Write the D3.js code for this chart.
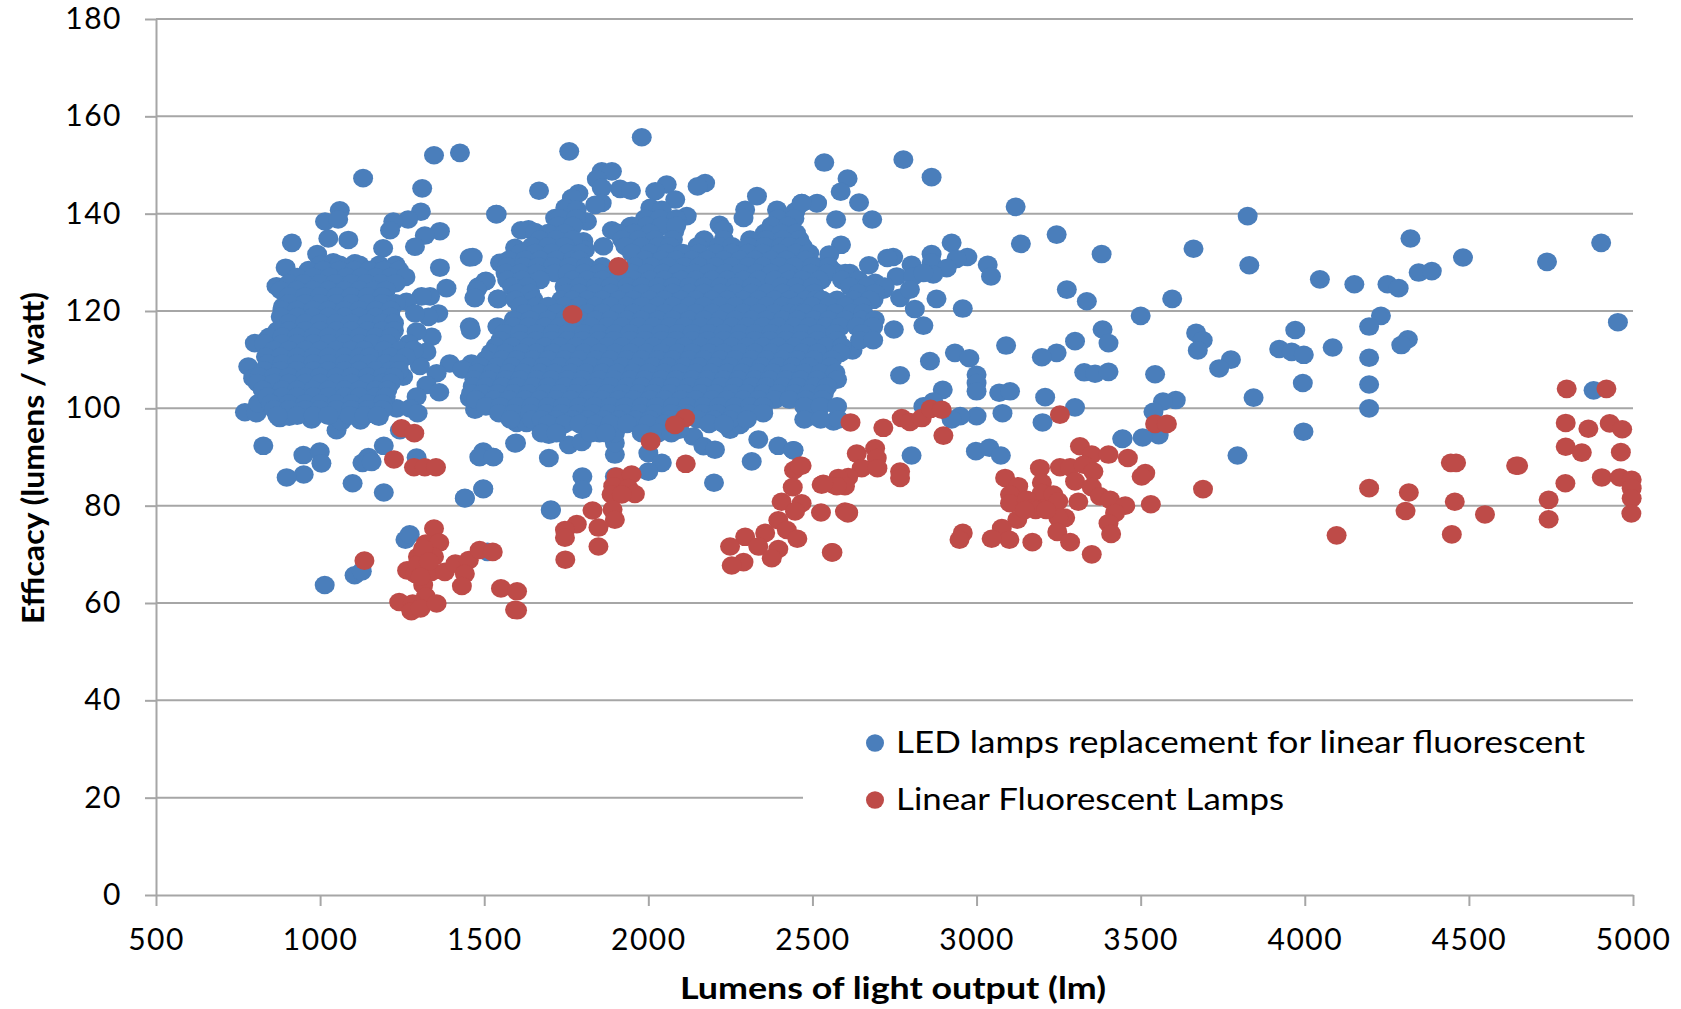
<!DOCTYPE html>
<html>
<head>
<meta charset="utf-8">
<script src="https://cdn.jsdelivr.net/npm/d3@7"></script>
<style>
body { margin: 0; background: #fff; }
text { font-family: Lato, sans-serif; fill: #000; }
</style>
</head>
<body>
<div id="chart"></div>
<script>
var xTicks = [500, 1000, 1500, 2000, 2500, 3000, 3500, 4000, 4500, 5000];
var yTicks = [0, 20, 40, 60, 80, 100, 120, 140, 160, 180];
var seriesNames = ["LED lamps replacement for linear fluorescent", "Linear Fluorescent Lamps"];
var seriesColors = ["#4a7ebb", "#be4b48"];

// LED points that can be told apart: [lumens, efficacy]
var ledPoints = [
    [1131,147.3],[1311,145.2],[1347,152],[1426,152.5],[1060,140.7],[1015,138.4],[1055,138.8],[1307,140.4],[1268,138.8],[1223,138.4],
    [1213,136.6],[1365,136.4],[1319,135.5],[1025,134.9],[1086,134.6],[914,134],[1289,133.2],[1192,132.9],[1538,139.9],[1456,131],
    [1365,128.9],[1385,124.7],[991,131.7],[1040,130],[1106,129.8],[895,128.9],[867,125.1],[887,120.9],[1505,126.2],[1482,125],
    [1470,122.7],[1541,122.5],[1335,123],[1309,123],[1263,121.9],[1360,119.5],[1330,118.8],[1289,119.5],[1456,116.8],[1459,116],
    [1340,114.7],[1324,111.6],[1294,115.8],[801,113.4],[837,114],[781,108.6],[796,106.2],[1395,109.2],[1461,109.2],[1433,108],
    [1355,107.2],[1304,108.7],[1324,104.8],[1363,103.3],[1294,102.4],[1253,106.5],[771,99.2],[806,99],[811,101],[877,98],
    [906,98.3],[974,97.7],[1050,95.5],[1065,97.3],[1123,97.5],[1179,98.3],[1233,100],[1274,100],[1297,99],[1243,95.5],
    [827,92.3],[949,90.4],[999,91.1],[1004,88.7],[950,86.4],[898,85.8],[1099,84.6],[1194,82.7],[1194,92.3],[1147,90],
    [1129,88.8],[1157,89],[1294,89.9],[1441,81.5],[1497,83.4],[1497,91.1],[1485,90],[1527,90],[1594,92.8],
    [1980,155.7],[1759,152.8],[1667,144.7],[1858,148.7],[1889,148.7],[1843,147.1],[1914,145.1],[1947,144.7],[1858,145.3],[1787,144.2],
    [1767,143.2],[1858,142.2],[1838,141.8],[2056,146],[2021,144.6],[2082,142.9],[2006,141.2],[2041,140.8],[2117,139.5],[2079,136.4],
    [2173,146.3],[2150,145.6],[2331,143.6],[2295,140.8],[2290,139.1],[2392,140.8],[2468,142.2],[2514,142.2],[2448,140.5],[2217,137.7],
    [2229,136.7],[1536,139.9],[1716,139.1],[1747,141.2],[1782,140.8],[1813,138.4],[1635,136.8],[1612,136.6],[1655,136.2],[1889,136.6],
    [1945,137.4],[1594,133],[1548,129.9],[1465,131.1],[1503,126.1],[1477,124.4],[1543,122.5],[1472,122.7],[1802,134.3],[1807,132.6],
    [1863,133.3],[1594,125.1],[1569,127.8],
    [1497,90.8],[1487,90],[1528,90],[1597,92.9],[1697,89.8],[1697,94.6],[1758,92.5],[1797,93.1],[1851,94.9],[1898,90.5],
    [1898,92.9],[1898,94.9],[1799,86],[1799,83.3],[1497,83.5],[1441,81.6],[1703,79.2],[2000,90.8],[2041,88.8],[2000,87],
    [1898,86],[2335,93.6],[2396,92.3],[2442,91.4],[2315,89.1],[2200,84.7],[2137,94.2],[2168,92.2],[2203,91.5],[2249,95.6],
    [2279,96.6],[2095,95.6],[1599,97],[1629,97],[1472,99.7],[1456,102.1],[2498,98.4],[2564,97.3],
    [2536,150.5],[2777,151.1],[2863,147.5],[2607,147.2],[2586,144.5],[2642,142.3],[2513,142.1],[2467,142.2],[2572,138.8],[2682,138.8],
    [3119,141.4],[3244,135.7],[3135,133.8],[3381,131.7],[2587,133.6],[2551,131.6],[2924,134],[2863,131.7],[2972,131.1],[2939,130.7],
    [3034,129.5],[3044,127.1],[2746,131.1],[2728,130.9],[2802,129.5],[2672,129.4],[2863,129.9],[2757,127.1],[2909,128.8],[2868,127.5],
    [2807,127.1],[2838,127.8],[2614,127.8],[2564,128.2],[2513,129.2],[2528,126.4],[2645,125.8],[2691,125.8],[2716,124.4],[2640,122.3],
    [2686,122.3],[2767,122.7],[2797,124.4],[2878,122.5],[2958,120.5],[2812,120.4],[3275,124.4],[3336,122],[2838,117],[2748,116.2],
    [3384,116.2],[3402,113.4],[3300,113.8],[3244,111.4],[3199,110.5],[3090,112.9],[2663,114.8],[2622,111.9],[2934,111.4],[2978,110.3],
    [2858,109.7],[3000,106.9],[3000,105.2],[3000,103.5],[2767,106.8],[3328,107.4],[3361,107.1],[3402,107.5],[2897,103.8],[3069,103.2],
    [3102,103.5],[3209,102.3],[3300,100.2],[2868,101.4],[2838,100.4],[3079,99],[3000,98.4],[2950,98.4],[2924,97.7],[3201,97.1],
    [2558,105.9],[2802,90.3],[2998,91.2],[3039,91.9],[3074,90.3],[3445,93.8],[2442,91.4],
    [3661,132.8],[3831,129.4],[3826,139.5],[4322,134.9],[4482,131],[4903,134],[4738,130.1],[4046,126.5],[4151,125.5],[4252,125.5],
    [4286,124.7],[4347,127.9],[4387,128.2],[3596,122.5],[3500,119],[4232,119],[4196,116.8],[4954,117.7],[3669,115.5],[3689,114],
    [3674,111.9],[3971,116.1],[4085,112.5],[3922,112.2],[3960,111.6],[3997,111],[4314,114.2],[4294,113],[3775,110],[3739,108.2],
    [4196,110.4],[3544,107],[3994,105.2],[4196,104.9],[3607,101.7],[3568,101.4],[3844,102.2],[3539,99.3],[4196,100],[3996,95.2],
    [3555,94.5],[3506,94],[3444,93.7],[3795,90.3],[4880,103.7],
    [1014,63.7],[1105,65.7],[1127,66.5],[1260,73],[1273,74.1],[1703,79],[1510,70.5]
];

// overplotted LED clouds, estimated row by row: [efficacy, lumens, lumens, ...]
var ledCloudRows = [
    [129.5,1000,1060,1120,1180,1230],
    [128.4,965,1010,1060,1105,1150,1195,1240],
    [127,930,980,1030,1080,1125,1170,1215,1260],
    [125.7,905,950,1000,1045,1095,1140,1185,1230],
    [124.3,880,930,980,1025,1075,1120,1165,1200],
    [123,905,955,1000,1050,1095,1145,1190],
    [121.6,905,955,1000,1050,1095,1145,1190,1230],
    [120.2,885,930,980,1025,1075,1120,1170,1215],
    [118.8,880,930,980,1025,1075,1120,1170,1215],
    [117.5,905,955,1000,1050,1095,1145,1190,1225],
    [116,870,905,955,1000,1050,1095,1145,1190,1225],
    [114.7,845,885,930,980,1025,1075,1120,1170,1215],
    [113.3,830,885,930,980,1025,1075,1120,1160,1205,1270],
    [112,860,905,955,1000,1050,1095,1135,1195,1245,1285],
    [110.6,835,880,930,980,1025,1075,1120,1150,1215,1260],
    [109.2,840,885,930,980,1025,1075,1120,1150,1200,1240],
    [107.8,830,880,930,980,1025,1075,1120,1170,1215,1240],
    [106.5,815,860,905,955,1000,1050,1095,1145,1190,1225],
    [105.2,810,860,905,955,1000,1050,1095,1145,1190,1215],
    [103.8,825,885,930,980,1025,1075,1120,1170,1205],
    [102.4,840,885,930,980,1025,1075,1120,1170,1200],
    [101,850,905,955,1000,1050,1095,1145,1190],
    [99.8,860,905,955,1000,1050,1095,1145,1190],
    [98.5,870,930,980,1025,1090,1135,1175],
    [139,1730,1780,1990,2035,2085,2395,2445],
    [137.5,1725,1770,1950,1995,2040,2085,2375,2425],
    [136,1695,1745,1910,1955,2005,2355,2405,2450],
    [134.7,1670,1720,1770,1920,1970,2020,2075,2170,2230,2310,2360,2410,2460],
    [133.3,1645,1695,1745,1930,1980,2030,2065,2150,2215,2255,2305,2355,2405,2430,2470],
    [131.9,1610,1655,1705,1755,1795,1950,2005,2055,2105,2155,2205,2255,2305,2350,2400,2450,2490],
    [130.5,1575,1625,1670,1720,1770,1790,1990,2040,2085,2135,2180,2230,2280,2325,2375,2420,2480],
    [129.2,1570,1620,1665,1710,1760,1810,1860,1960,2010,2060,2110,2155,2205,2255,2305,2350,2400,2445,2500,2550],
    [127.8,1565,1610,1660,1715,1755,1805,1850,1900,1950,1995,2045,2090,2140,2185,2235,2280,2330,2375,2425,2495,2545,2600],
    [126.4,1570,1615,1670,1770,1815,1860,1910,1955,2005,2050,2100,2145,2195,2240,2290,2335,2385,2430,2470,2520,2590,2640],
    [125,1585,1630,1745,1790,1840,1885,1935,1980,2030,2075,2125,2170,2220,2265,2315,2405,2450,2500,2615,2665,2720],
    [123.7,1600,1640,1750,1790,1840,1885,1935,1980,2030,2075,2125,2170,2220,2265,2315,2360,2410,2455,2505,2640,2690],
    [122.3,1595,1650,1735,1770,1815,1860,1910,1955,2005,2050,2100,2145,2195,2240,2290,2335,2385,2430,2480,2510,2530,2575,2625,2675],
    [121,1610,1660,1695,1745,1790,1840,1885,1935,1980,2030,2075,2125,2170,2220,2265,2315,2360,2410,2450,2500,2550,2600,2650],
    [119.6,1625,1670,1720,1765,1815,1860,1910,1955,2005,2050,2100,2145,2195,2240,2290,2335,2385,2430,2460,2475,2525,2570,2620,2655],
    [118.2,1590,1640,1695,1745,1790,1840,1885,1935,1980,2030,2075,2125,2170,2220,2265,2315,2360,2410,2455,2505,2550,2600,2650,2690],
    [116.8,1540,1590,1635,1685,1730,1780,1825,1875,1920,1970,2015,2065,2110,2160,2205,2255,2300,2350,2395,2445,2490,2540,2585,2635,2685],
    [115.4,1560,1610,1660,1710,1755,1805,1850,1900,1945,1995,2040,2090,2135,2185,2230,2280,2325,2375,2420,2470,2515,2570,2650],
    [114,1550,1610,1660,1705,1755,1800,1850,1895,1945,1990,2040,2085,2135,2180,2230,2275,2325,2370,2420,2465,2515,2575,2645,2685],
    [112.7,1535,1585,1635,1685,1730,1780,1825,1875,1920,1970,2015,2065,2110,2160,2205,2255,2300,2350,2395,2445,2490,2540,2590],
    [111.4,1520,1565,1615,1660,1710,1755,1805,1850,1900,1945,1995,2040,2090,2135,2185,2230,2280,2325,2375,2420,2470,2515,2585],
    [110,1505,1555,1600,1650,1695,1745,1790,1840,1885,1935,1980,2030,2075,2125,2170,2220,2265,2315,2360,2410,2455,2505,2560],
    [108.6,1490,1540,1585,1635,1680,1730,1775,1825,1870,1920,1965,2015,2060,2110,2155,2205,2250,2300,2345,2395,2440,2490,2555],
    [107.3,1480,1525,1575,1620,1670,1715,1765,1810,1860,1905,1955,2000,2050,2095,2145,2190,2240,2285,2335,2380,2430,2475,2525,2570],
    [105.9,1470,1515,1565,1610,1660,1705,1755,1800,1850,1895,1945,1990,2040,2085,2135,2180,2230,2275,2325,2370,2420,2465,2515,2575],
    [104.5,1465,1505,1555,1600,1650,1695,1745,1790,1840,1885,1935,1980,2030,2075,2125,2170,2220,2265,2315,2360,2410,2455,2505,2545],
    [103.1,1460,1495,1540,1590,1635,1685,1730,1780,1825,1875,1920,1970,2015,2065,2110,2160,2205,2255,2300,2350,2395,2445,2490,2535],
    [101.8,1475,1530,1575,1625,1670,1720,1765,1815,1860,1910,1955,2005,2050,2100,2145,2195,2240,2290,2335,2385,2430,2480,2530],
    [100.4,1505,1550,1600,1645,1695,1740,1790,1835,1885,1930,1980,2025,2075,2120,2170,2215,2265,2310,2350,2475,2525,2575],
    [99,1545,1590,1640,1690,1735,1785,1830,1880,1925,1975,2020,2070,2115,2165,2210,2260,2310,2350],
    [97.7,1580,1645,1675,1720,1770,1815,1865,1910,1960,2005,2065,2150,2200,2250,2300,2475,2525,2580],
    [96.8,1695,1745,1790,1840,1885,1935,2000,2050,2185,2230],
    [94.9,1675,1720,1825,1870,1980,2030,2070]
];

// fluorescent points: [lumens, efficacy]
var fluorescentPoints = [
    [1909,129.2],[1769,119.3],[1248,95.9],[1287,94.9],[1225,89.5],[1286,87.9],[1319,87.9],[1353,87.9],
    [1135,68.7],[1347,75.3],[1322,72.2],[1363,72.4],[1298,69.5],[1347,69.5],[1265,66.7],[1290,66],[1339,66.4],[1380,66.4],[1412,68.1],[1453,68.8],
    [1441,66],[1432,63.5],[1486,70.9],[1526,70.5],[1314,63.7],[1322,61.3],[1241,60.2],[1282,59.9],[1278,58.3],[1306,58.9],
    [1355,59.9],[1551,63],[1600,62.4],[1600,58.5],[1594,58.6],[1298,68],[1314,71.2],[1331,68.5],[1306,65.4],
    [2007,93.2],[2112,98],[2081,96.6],[2114,88.6],[2467,88.2],[2444,87.3],[2440,83.8],[2528,84.3],[2564,84.3],[2406,80.8],
    [2467,80.5],[2447,78.8],[2526,78.6],[2396,77],[2422,75],[2454,73.2],[2356,74.4],[2295,73.6],[2249,71.6],[2335,71.6],
    [2396,71.1],[2376,69.2],[2290,68.4],[2254,67.7],[2559,70.4],
    [1903,86],[1949,86.4],[1893,84],[1939,83.6],[1888,82.3],[1959,82.4],[1919,82.3],[1891,79.2],[1830,79],[1898,77.1],
    [1848,75.5],[1782,76.2],[1746,75],[1746,73.4],[1848,71.6],[1747,68.9],
    [2616,97.1],[2716,96],[2772,98],[2797,97.2],[2833,98],[2860,99.9],[2894,99.7],[2899,94.4],[3254,98.7],[3544,96.8],
    [3580,96.8],[2635,90.7],[2691,91.8],[2696,89.8],[2650,87.7],[2698,87.7],[2609,85.9],[2579,85.7],[2599,84],[2574,84],
    [2533,84.5],[2767,87],[2767,85.7],[2462,88.2],[2599,78.8],[2609,78.6],[2608,78.4],[2561,70.4],
    [3315,92.2],[3351,90.5],[3402,90.5],[3461,89.8],[3514,86.7],[3503,86],[3193,87.7],[3254,87.9],[3285,87.9],[3326,88.4],
    [3356,87],[3300,85],[3351,83.8],[3376,81.9],[3407,81.2],[3453,80],[3531,80.3],[3087,85.7],[3127,84],[3199,84.7],
    [3199,82.6],[3102,82.3],[3102,80.5],[3153,81.2],[3173,79.5],[3209,79.5],[3234,82.3],[3249,80.9],[3310,80.8],[3270,77.5],
    [3249,77.5],[3124,77.1],[3077,75.4],[3422,78.5],[3402,76.4],[3410,74.2],[3246,74.6],[3285,72.5],[3351,70],[3170,72.5],
    [3100,73],[3046,73.2],[2958,74.4],[2948,73],[3180,79.1],[3212,79.1],[3147,79.1],
    [4798,104],[4919,104],[4795,97],[4864,95.8],[4929,96.9],[4967,95.7],[4795,92.1],[4844,90.9],[4963,91],[4445,88.8],
    [4461,88.8],[4644,88.2],[4650,88.2],[4794,84.6],[4905,85.8],[4960,85.8],[4996,85.3],[4996,83.6],[4996,81.5],[4196,83.6],
    [4317,82.7],[3690,83.4],[4457,80.8],[4743,81.2],[4307,78.9],[4549,78.2],[4743,77.2],[4995,78.4],[4097,73.9],[4448,74.1]
];

draw_chart();

function draw_chart() {
    var width = 1681,
        height = 1009,
        margin = { top: 19, right: 48, bottom: 114, left: 156 },
        gridColor = "#a6a6a6";

    var x = d3.scaleLinear().domain([500, 5000]).range([margin.left, width - margin.right]);
    var y = d3.scaleLinear().domain([0, 180]).range([height - margin.bottom, margin.top]);

    var svg = d3.select("#chart").append("svg")
        .attr("width", width)
        .attr("height", height)
        .style("display", "block");

    // gridlines
    svg.append("g")
        .selectAll("line")
        .data(yTicks.slice(1))
        .enter().append("line")
        .attr("x1", margin.left)
        .attr("x2", width - margin.right)
        .attr("y1", function (d) { return y(d); })
        .attr("y2", function (d) { return y(d); })
        .attr("stroke", gridColor)
        .attr("stroke-width", 2);

    // white legend box hides the right part of the 20 line
    var legendLeft = 803;
    svg.append("rect")
        .attr("x", legendLeft)
        .attr("y", y(40) + 3)
        .attr("width", width - margin.right - legendLeft + 2)
        .attr("height", y(0) - y(40) - 6)
        .attr("fill", "#fff");

    // axes
    var xAxis = svg.append("g")
        .attr("transform", "translate(0," + y(0) + ")")
        .call(d3.axisBottom(x).tickValues(xTicks).tickSizeInner(11).tickSizeOuter(0).tickPadding(23).tickFormat(d3.format("d")));
    var yAxis = svg.append("g")
        .attr("transform", "translate(" + margin.left + ",0)")
        .call(d3.axisLeft(y).tickValues(yTicks).tickSizeInner(11).tickSizeOuter(0).tickPadding(23).tickFormat(d3.format("d")));
    [xAxis, yAxis].forEach(function (axis) {
        axis.selectAll("path, line").attr("stroke", gridColor).attr("stroke-width", 2);
        axis.selectAll("text")
            .style("font-size", "30px")
            .style("letter-spacing", "1.5px")
            .attr("fill", "#000");
    });

    // expand the row lists to points, blue goes first and red on top
    var ledAll = ledPoints.slice();
    ledCloudRows.forEach(function (row) {
        row.slice(1).forEach(function (lumens) { ledAll.push([lumens, row[0]]); });
    });

    [ledAll, fluorescentPoints].forEach(function (points, i) {
        svg.append("g")
            .selectAll("ellipse")
            .data(points)
            .enter().append("ellipse")
            .attr("cx", function (d) { return x(d[0]); })
            .attr("cy", function (d) { return y(d[1]); })
            .attr("rx", 10)
            .attr("ry", 9.3)
            .attr("fill", seriesColors[i]);
    });

    // legend
    var legendRows = [743, 800];
    seriesNames.forEach(function (name, i) {
        svg.append("ellipse")
            .attr("cx", 875)
            .attr("cy", legendRows[i])
            .attr("rx", 9)
            .attr("ry", 8.8)
            .attr("fill", seriesColors[i]);
        svg.append("text")
            .attr("x", 896)
            .attr("y", legendRows[i] + 10)
            .attr("textLength", i == 0 ? 689 : 388)
            .attr("lengthAdjust", "spacingAndGlyphs")
            .style("font-size", "30px")
            .text(name);
    });

    // axis titles
    svg.append("text")
        .attr("x", 893)
        .attr("y", 999)
        .attr("text-anchor", "middle")
        .attr("textLength", 426)
        .attr("lengthAdjust", "spacingAndGlyphs")
        .style("font-size", "30px")
        .style("font-weight", "bold")
        .text("Lumens of light output (lm)");
    svg.append("text")
        .attr("transform", "translate(44,458) rotate(-90)")
        .attr("text-anchor", "middle")
        .attr("textLength", 332)
        .attr("lengthAdjust", "spacingAndGlyphs")
        .style("font-size", "30px")
        .style("font-weight", "bold")
        .text("Efficacy (lumens / watt)");
}
</script>
</body>
</html>
